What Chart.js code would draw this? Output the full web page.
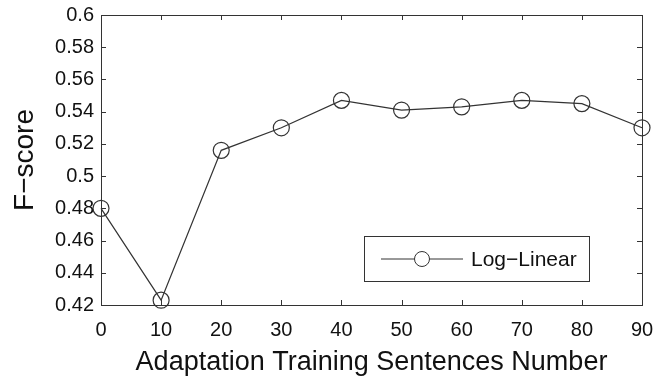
<!DOCTYPE html>
<html>
<head>
<meta charset="utf-8">
<script src="https://cdn.jsdelivr.net/npm/chart.js@4"></script>
<style>
  html, body { margin: 0; padding: 0; background: #fff; }
  #wrap { width: 655px; height: 379px; }
</style>
</head>
<body>
<div id="wrap"><canvas id="chart" width="655" height="379"></canvas></div>
<script>
// data
const sentences = [0, 10, 20, 30, 40, 50, 60, 70, 80, 90];
const logLinear = [0.48, 0.423, 0.516, 0.530, 0.547, 0.541, 0.543, 0.547, 0.545, 0.530];
const xTicks = [0, 10, 20, 30, 40, 50, 60, 70, 80, 90];
const yTicks = [0.42, 0.44, 0.46, 0.48, 0.5, 0.52, 0.54, 0.56, 0.58, 0.6];

const ink = '#333';
const font = 'Arial, "Liberation Sans", sans-serif';

// MATLAB style box with inward ticks, plus the legend
const matlabBox = {
  id: 'matlabBox',
  afterDatasetsDraw(chart) {
    const { ctx, chartArea: a, scales } = chart;
    const t = 5;
    ctx.save();
    ctx.strokeStyle = ink;
    ctx.lineWidth = 1;
    ctx.strokeRect(a.left + 0.5, a.top + 0.5, a.right - a.left, a.bottom - a.top);
    ctx.beginPath();
    xTicks.forEach(v => {
      const x = Math.round(scales.x.getPixelForValue(v)) + 0.5;
      ctx.moveTo(x, a.bottom); ctx.lineTo(x, a.bottom - t);
      ctx.moveTo(x, a.top); ctx.lineTo(x, a.top + t);
    });
    yTicks.forEach(v => {
      const y = Math.round(scales.y.getPixelForValue(v)) + 0.5;
      ctx.moveTo(a.left, y); ctx.lineTo(a.left + t, y);
      ctx.moveTo(a.right, y); ctx.lineTo(a.right - t, y);
    });
    ctx.stroke();

    // legend box
    const lx = 364, ly = 236, lw = 225, lh = 45;
    ctx.fillStyle = '#fff';
    ctx.fillRect(lx, ly, lw, lh);
    ctx.strokeRect(lx + 0.5, ly + 0.5, lw, lh);
    const cy = ly + lh / 2 + 0.5;
    ctx.beginPath();
    ctx.moveTo(381, cy); ctx.lineTo(463, cy);
    ctx.stroke();
    ctx.beginPath();
    ctx.arc(422, cy, 7.5, 0, Math.PI * 2);
    ctx.fillStyle = '#fff';
    ctx.fill();
    ctx.stroke();
    ctx.fillStyle = '#111';
    ctx.font = '21px ' + font;
    ctx.textBaseline = 'middle';
    ctx.fillText('Log\u2212Linear', 471, cy + 1);
    ctx.restore();
  }
};

new Chart(document.getElementById('chart'), {
  type: 'line',
  data: {
    datasets: [{
      label: 'Log\u2212Linear',
      data: sentences.map((s, i) => ({ x: s, y: logLinear[i] })),
      borderColor: ink,
      borderWidth: 1.2,
      pointStyle: 'circle',
      pointRadius: 8,
      pointBorderWidth: 1.2,
      pointBorderColor: ink,
      pointBackgroundColor: 'rgba(255,255,255,0)',
      tension: 0,
      clip: false
    }]
  },
  options: {
    responsive: false,
    animation: false,
    layout: { padding: { top: 15, right: 13, left: 0, bottom: 0 } },
    plugins: { legend: { display: false }, tooltip: { enabled: false } },
    scales: {
      x: {
        type: 'linear', min: 0, max: 90,
        afterBuildTicks: s => { s.ticks = xTicks.map(v => ({ value: v })); },
        afterFit: s => { s.height = 74; s.paddingLeft = 0; s.paddingRight = 0; },
        grid: { display: false, drawTicks: false },
        border: { display: false },
        ticks: { color: '#111', font: { family: font, size: 20 }, padding: 13, maxRotation: 0 },
        title: { display: true, text: 'Adaptation Training Sentences Number', color: '#111',
                 font: { family: font, size: 27 }, padding: { top: 0, bottom: 0 } }
      },
      y: {
        min: 0.42, max: 0.6,
        afterBuildTicks: s => { s.ticks = yTicks.map(v => ({ value: v })); },
        afterFit: s => { s.width = 101; s.paddingTop = 0; s.paddingBottom = 0; },
        grid: { display: false, drawTicks: false },
        border: { display: false },
        ticks: { color: '#111', font: { family: font, size: 20 }, padding: 7,
                 callback: v => String(+v.toFixed(2)) },
        title: { display: true, text: 'F\u2212score', color: '#111',
                 font: { family: font, size: 28 }, padding: { top: 8, bottom: 0 } }
      }
    }
  },
  plugins: [matlabBox]
});
</script>
</body>
</html>
